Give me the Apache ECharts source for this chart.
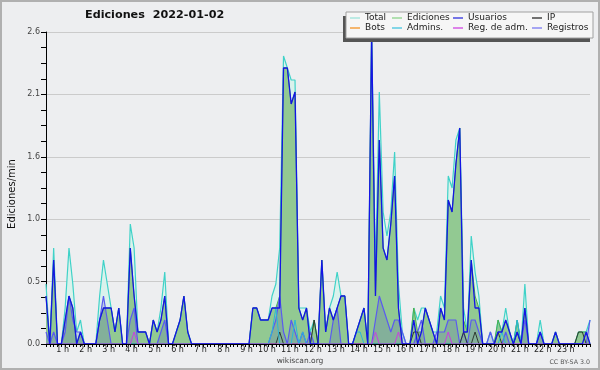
<!DOCTYPE html>
<html>
<head>
<meta charset="utf-8">
<title>Ediciones 2022-01-02</title>
<script src="https://cdn.jsdelivr.net/npm/echarts@6/dist/echarts.min.js"></script>
<style>
  html, body { margin: 0; padding: 0; background: #edeef0; }
  #chart { width: 600px; height: 370px; }
</style>
</head>
<body>
<div id="chart"></div>
<script>
// Edits per minute, 10-minute bins starting 00:00 (two hours per row)
const usuarios = [
  0.4, 0, 0.7, 0, 0, 0.2, 0.4, 0.3, 0, 0.1, 0, 0,
  0, 0, 0.2, 0.3, 0.3, 0.3, 0.1, 0.3, 0, 0, 0.8, 0.4,
  0.1, 0.1, 0.1, 0, 0.2, 0.1, 0.2, 0.4, 0, 0, 0.1, 0.2,
  0.4, 0.1, 0, 0, 0, 0, 0, 0, 0, 0, 0, 0,
  0, 0, 0, 0, 0, 0, 0.3, 0.3, 0.2, 0.2, 0.2, 0.3,
  0.3, 0.3, 2.3, 2.3, 2.0, 2.1, 0.3, 0.2, 0.3, 0, 0, 0,
  0.7, 0.1, 0.3, 0.2, 0.3, 0.4, 0.4, 0, 0, 0.1, 0.2, 0.3,
  0, 2.6, 0.4, 1.7, 0.8, 0.7, 1.0, 1.4, 0.3, 0, 0, 0,
  0.2, 0, 0.1, 0.3, 0.2, 0.1, 0, 0.3, 0.2, 1.2, 1.1, 1.5,
  1.8, 0.1, 0.1, 0.7, 0.3, 0.3, 0, 0, 0, 0, 0.1, 0.1,
  0.2, 0.1, 0, 0.1, 0, 0.3, 0, 0, 0, 0.1, 0, 0,
  0, 0.1, 0, 0, 0, 0, 0, 0, 0, 0.1, 0
];
const ip = [
  0, 0, 0, 0, 0, 0, 0, 0, 0, 0, 0, 0,
  0, 0, 0, 0, 0, 0, 0, 0, 0, 0, 0, 0,
  0, 0, 0, 0, 0, 0, 0, 0, 0, 0, 0, 0,
  0, 0, 0, 0, 0, 0, 0, 0, 0, 0, 0, 0,
  0, 0, 0, 0, 0, 0, 0, 0, 0, 0, 0, 0,
  0, 0.1, 0, 0, 0, 0, 0, 0, 0, 0, 0.2, 0,
  0, 0, 0, 0, 0, 0, 0, 0, 0, 0, 0, 0,
  0, 0, 0, 0, 0, 0, 0, 0, 0, 0, 0, 0,
  0.1, 0.1, 0, 0, 0, 0, 0, 0, 0, 0, 0, 0,
  0, 0.1, 0, 0, 0.1, 0, 0, 0, 0, 0, 0.1, 0,
  0, 0, 0, 0.1, 0, 0, 0, 0, 0, 0, 0, 0,
  0, 0, 0, 0, 0, 0, 0, 0.1, 0.1, 0, 0
];
const ediciones = [
  0.4, 0, 0.7, 0, 0, 0.2, 0.4, 0.3, 0, 0.1, 0, 0,
  0, 0, 0.2, 0.3, 0.3, 0.3, 0.1, 0.3, 0, 0, 0.8, 0.4,
  0.1, 0.1, 0.1, 0, 0.2, 0.1, 0.2, 0.4, 0, 0, 0.1, 0.2,
  0.4, 0.1, 0, 0, 0, 0, 0, 0, 0, 0, 0, 0,
  0, 0, 0, 0, 0, 0, 0.3, 0.3, 0.2, 0.2, 0.2, 0.3,
  0.3, 0.4, 2.3, 2.3, 2.0, 2.1, 0.3, 0.2, 0.3, 0, 0.2, 0,
  0.7, 0.1, 0.3, 0.2, 0.3, 0.4, 0.4, 0, 0, 0.1, 0.2, 0.3,
  0, 2.6, 0.4, 1.7, 0.8, 0.7, 1.0, 1.4, 0.3, 0, 0, 0,
  0.3, 0.1, 0.1, 0.3, 0.2, 0.1, 0, 0.3, 0.2, 1.2, 1.1, 1.5,
  1.8, 0.2, 0.1, 0.7, 0.4, 0.3, 0, 0, 0, 0, 0.2, 0.1,
  0.2, 0.1, 0, 0.2, 0, 0.3, 0, 0, 0, 0.1, 0, 0,
  0, 0.1, 0, 0, 0, 0, 0, 0.1, 0.1, 0.1, 0
];
const registros = [
  0.1, 0, 0.1, 0, 0, 0.1, 0.4, 0.2, 0.1, 0.1, 0, 0,
  0, 0, 0.2, 0.4, 0.2, 0, 0, 0, 0, 0, 0.2, 0.3,
  0, 0, 0, 0, 0, 0, 0.1, 0.2, 0, 0, 0, 0,
  0, 0, 0, 0, 0, 0, 0, 0, 0, 0, 0, 0,
  0, 0, 0, 0, 0, 0, 0, 0, 0, 0, 0, 0.1,
  0.2, 0.4, 0.1, 0, 0.2, 0.1, 0, 0.1, 0, 0.1, 0, 0,
  0, 0, 0, 0.2, 0.3, 0, 0, 0, 0, 0, 0, 0,
  0, 0, 0.2, 0.4, 0.3, 0.2, 0.1, 0.2, 0.2, 0.1, 0, 0,
  0, 0.1, 0.2, 0, 0, 0, 0.1, 0.1, 0.1, 0.2, 0.2, 0.2,
  0, 0.1, 0, 0.2, 0.2, 0.1, 0, 0, 0.1, 0, 0, 0,
  0.1, 0, 0, 0, 0, 0.2, 0, 0, 0, 0.1, 0, 0,
  0, 0, 0, 0, 0, 0, 0, 0, 0, 0, 0.2
];
const total = [
  0.5, 0, 0.8, 0, 0, 0.3, 0.8, 0.5, 0.1, 0.2, 0, 0,
  0, 0, 0.4, 0.7, 0.5, 0.3, 0.1, 0.3, 0, 0, 1.0, 0.8,
  0.1, 0.1, 0.1, 0, 0.2, 0.1, 0.3, 0.6, 0, 0, 0.1, 0.2,
  0.4, 0.1, 0, 0, 0, 0, 0, 0, 0, 0, 0, 0,
  0, 0, 0, 0, 0, 0, 0.3, 0.3, 0.2, 0.2, 0.2, 0.4,
  0.5, 0.8, 2.4, 2.3, 2.2, 2.2, 0.3, 0.3, 0.3, 0.1, 0.2, 0,
  0.7, 0.1, 0.3, 0.4, 0.6, 0.4, 0.4, 0, 0, 0.1, 0.2, 0.3,
  0, 2.6, 0.6, 2.1, 1.1, 0.9, 1.1, 1.6, 0.5, 0.1, 0, 0,
  0.3, 0.2, 0.3, 0.3, 0.2, 0.1, 0.1, 0.4, 0.3, 1.4, 1.3, 1.7,
  1.8, 0.3, 0.1, 0.9, 0.6, 0.4, 0, 0, 0.1, 0, 0.2, 0.1,
  0.3, 0.1, 0, 0.2, 0, 0.5, 0, 0, 0, 0.2, 0, 0,
  0, 0.1, 0, 0, 0, 0, 0, 0.1, 0.1, 0.1, 0.2
];
const admins = [
  0, 0, 0, 0, 0, 0, 0, 0, 0, 0, 0, 0,
  0, 0, 0, 0, 0, 0, 0, 0, 0, 0, 0, 0,
  0, 0, 0, 0, 0, 0, 0, 0, 0, 0, 0, 0,
  0, 0, 0, 0, 0, 0, 0, 0, 0, 0, 0, 0,
  0, 0, 0, 0, 0, 0, 0, 0, 0, 0, 0, 0.1,
  0.3, 0, 0, 0, 0, 0.2, 0, 0.1, 0, 0, 0, 0,
  0, 0, 0, 0, 0, 0, 0, 0, 0, 0.1, 0.1, 0,
  0, 0, 0, 0, 0, 0, 0, 0, 0, 0, 0, 0,
  0, 0, 0, 0, 0, 0, 0, 0, 0, 0, 0, 0,
  0, 0, 0, 0, 0, 0, 0, 0, 0, 0, 0, 0.1,
  0, 0, 0, 0.2, 0, 0, 0, 0, 0, 0, 0, 0,
  0, 0, 0, 0, 0, 0, 0, 0, 0, 0, 0
];
const regAdm = [
  0, 0, 0, 0, 0, 0, 0, 0, 0, 0, 0, 0,
  0, 0, 0, 0, 0, 0, 0, 0, 0, 0, 0, 0.1,
  0, 0, 0, 0, 0, 0, 0, 0, 0, 0, 0, 0,
  0, 0, 0, 0, 0, 0, 0, 0, 0, 0, 0, 0,
  0, 0, 0, 0, 0, 0, 0, 0, 0, 0, 0, 0,
  0, 0, 0, 0, 0, 0, 0, 0, 0, 0, 0, 0,
  0, 0, 0, 0, 0, 0, 0, 0, 0, 0, 0, 0,
  0, 0, 0.1, 0, 0, 0, 0, 0, 0.1, 0, 0, 0,
  0, 0, 0, 0, 0, 0, 0, 0, 0, 0.1, 0, 0,
  0, 0, 0, 0, 0, 0, 0, 0, 0, 0, 0, 0,
  0, 0, 0, 0, 0, 0, 0, 0, 0, 0, 0, 0,
  0, 0, 0, 0, 0, 0, 0, 0, 0, 0, 0
];
const bots = [];

const hourLabels = ['', '1 h', '2 h', '3 h', '4 h', '5 h', '6 h', '7 h', '8 h', '9 h', '10 h', '11 h',
  '12 h', '13 h', '14 h', '15 h', '16 h', '17 h', '18 h', '19 h', '20 h', '21 h', '22 h', '23 h'];
const legendNames = ['Total', 'Ediciones', 'Usuarios', 'IP', 'Bots', 'Admins.', 'Reg. de adm.', 'Registros'];

const font = 'DejaVu Sans';
const chart = echarts.init(document.getElementById('chart'));

const toPoints = (arr) => arr.map((v, i) => [i, v]);

function lineSeries(name, data, color, width, extra) {
  return Object.assign({
    name: name,
    type: 'line',
    data: toPoints(data),
    color: color,
    symbol: 'none',
    showSymbol: false,
    lineStyle: { color: color, width: width },
    emphasis: { disabled: true },
  }, extra || {});
}

// one legend per entry so the two rows line up in columns
const legendCols = [350, 392, 453, 532];
const legendRows = [13.5, 23.5];
const legendColors = ['#a8e6de', '#9ad89a', '#4a4ae0', '#444444', '#f4a040', '#5ccbe2', '#d45ce4', '#8a8af2'];
const legends = legendNames.map((name, k) => ({
  data: [{ name: name, itemStyle: { color: legendColors[k] } }],
  left: legendCols[k % 4],
  top: legendRows[Math.floor(k / 4)],
  padding: 0,
  icon: 'rect',
  itemWidth: 10,
  itemHeight: 1.5,
  selectedMode: false,
  z: 21,
  textStyle: { fontFamily: font, fontSize: 9, color: '#222' },
}));

const option = {
  animation: false,
  backgroundColor: '#edeef0',
  title: {
    text: 'Ediciones  2022-01-02',
    left: 85,
    top: 10,
    padding: 0,
    textStyle: { fontFamily: font, fontSize: 11.2, fontWeight: 'bold', color: '#111' },
  },
  legend: legends,
  grid: { left: 46, right: 10, top: 32, bottom: 26 },
  xAxis: {
    type: 'value',
    min: 0,
    max: 142,
    interval: 1,
    z: 10,
    axisLine: { lineStyle: { color: '#000', width: 1 } },
    axisTick: { length: 3, lineStyle: { color: '#000' } },
    splitLine: { show: false },
    axisLabel: {
      formatter: (v) => hourLabels[v / 6] || '',
      align: 'right',
      margin: 2,
      fontFamily: font,
      fontSize: 8,
      color: '#222',
    },
  },
  yAxis: {
    type: 'value',
    min: 0,
    max: 2.6,
    interval: 0.52,
    axisLine: { show: true, lineStyle: { color: '#000' } },
    axisTick: { show: true, length: 5, lineStyle: { color: '#000' } },
    minorTick: { show: true, splitNumber: 4, length: 5, lineStyle: { color: '#000' } },
    splitLine: { lineStyle: { color: '#cbcbcb' } },
    axisLabel: {
      formatter: (v) => v.toFixed(1),
      margin: 6,
      fontFamily: font,
      fontSize: 8,
      color: '#444',
    },
  },
  series: [
    lineSeries('Total', total, '#3fd2c8', 1.2, { areaStyle: { color: '#daf2ec', opacity: 1 } }),
    lineSeries('Ediciones', ediciones, '#4caf4c', 1, { areaStyle: { color: '#92c992', opacity: 1 } }),
    lineSeries('Registros', registros, '#5a5af0', 1.2, { areaStyle: { color: 'rgba(60,60,190,0.25)' } }),
    lineSeries('IP', ip, '#2f3a30', 1),
    lineSeries('Bots', bots, '#f4a040', 1),
    lineSeries('Admins.', admins, '#2ab6d8', 1),
    lineSeries('Reg. de adm.', regAdm, '#c840e0', 1),
    lineSeries('Usuarios', usuarios, '#1414e6', 1.3),
  ],
  graphic: [
    { type: 'rect', z: 20, shape: { x: 343, y: 16, width: 247, height: 26 }, style: { fill: '#555' } },
    { type: 'rect', z: 20, shape: { x: 346, y: 12, width: 247, height: 26 },
      style: { fill: '#f6f6f6', stroke: '#a0a0a0', lineWidth: 1 } },
    { type: 'text', z: 20, x: 12, y: 194, rotation: Math.PI / 2,
      style: { text: 'Ediciones/min', font: '10px "DejaVu Sans"', fill: '#111', align: 'center', verticalAlign: 'middle' } },
    { type: 'text', z: 20, x: 300, y: 361,
      style: { text: 'wikiscan.org', font: '7.5px "DejaVu Sans"', fill: '#444', align: 'center', verticalAlign: 'middle' } },
    { type: 'text', z: 20, x: 590, y: 362.5,
      style: { text: 'CC BY-SA 3.0', font: '6.3px "DejaVu Sans"', fill: '#555', align: 'right', verticalAlign: 'middle' } },
    { type: 'rect', z: 30, shape: { x: 1, y: 1, width: 598, height: 368 },
      style: { fill: 'none', stroke: '#b0b0b0', lineWidth: 2 } },
  ],
};

chart.setOption(option);
</script>
</body>
</html>
